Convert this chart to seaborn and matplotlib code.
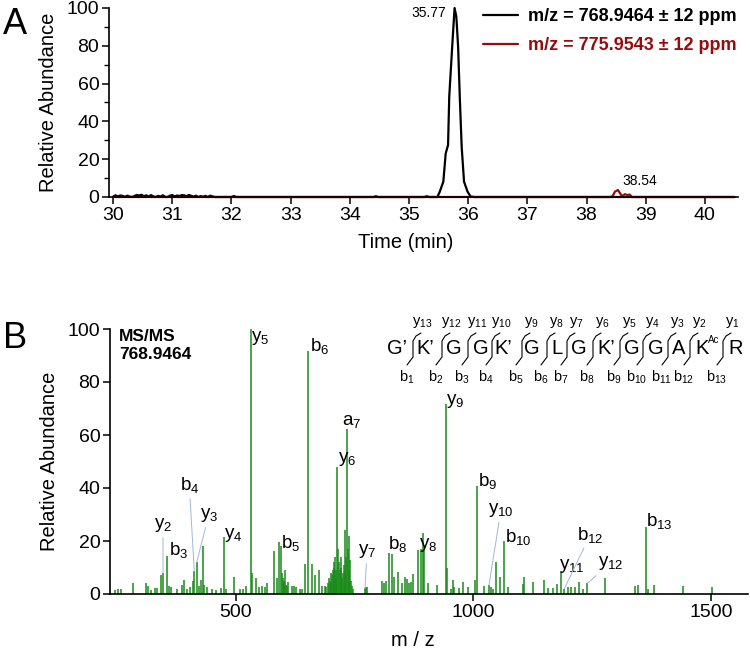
"""Extracted-ion chromatograms (A) and the annotated MS/MS spectrum (B)."""

import matplotlib

matplotlib.use("Agg")
import matplotlib.pyplot as plt
import numpy as np
import pandas as pd
import seaborn as sns
from matplotlib.lines import Line2D
from matplotlib.ticker import MultipleLocator

# --- panel A: extracted-ion chromatograms --------------------------------
XIC_768_TIME = [
    30.00, 30.04, 30.08, 30.12, 30.16, 30.20, 30.24, 30.28, 30.32, 30.36,
    30.40, 30.44, 30.48, 30.52, 30.56, 30.60, 30.64, 30.68, 30.72, 30.76,
    30.80, 30.84, 30.88, 30.92, 30.96, 31.00, 31.04, 31.08, 31.12, 31.16,
    31.20, 31.24, 31.28, 31.32, 31.36, 31.40, 31.44, 31.48, 31.52, 31.56,
    31.60, 31.64, 31.68, 31.72, 31.80, 32.00, 32.04, 32.08, 34.40, 34.44,
    34.48, 35.26, 35.30, 35.34, 35.48, 35.52, 35.58, 35.62, 35.66, 35.68,
    35.70, 35.74, 35.77, 35.80, 35.83, 35.86, 35.89, 35.93, 35.99, 36.04,
    36.10, 40.50,
]
XIC_768_INT = [
    0.2, 0.9, 0.3, 0.8, 0.6, 0.1, 0.7, 0.2, 0.0, 0.5,
    1.1, 0.8, 1.2, 0.4, 0.9, 0.2, 1.0, 0.3, 0.0, 0.6,
    0.2, 0.9, 0.1, 0.0, 0.7, 1.0, 0.3, 0.8, 0.5, 1.0,
    0.9, 0.4, 1.1, 0.6, 0.2, 0.7, 0.0, 0.5, 0.1, 0.6,
    0.0, 0.7, 0.3, 0.0, 0.0, 0.0, 0.5, 0.0, 0.0, 0.4,
    0.0, 0.0, 0.4, 0.0, 0.0, 2.8, 8.1, 23.0, 27.5, 53.0,
    63.7, 84.8, 100.0, 95.4, 79.5, 51.3, 26.6, 8.1, 2.8, 0.3,
    0.0, 0.0,
]
XIC_776_TIME = [30.00, 38.40, 38.44, 38.48, 38.53, 38.56, 38.60, 38.65,
                38.69, 38.73, 38.77, 40.50]
XIC_776_INT = [0.0, 0.0, 0.4, 2.8, 3.7, 2.3, 0.4, 1.5, 1.0, 1.3, 0.0, 0.0]
XIC_LABELS = ["m/z = 768.9464 ± 12 ppm", "m/z = 775.9543 ± 12 ppm"]
APEX_TIMES = [35.77, 38.54]
APEX_INT = [100.0, 3.7]

# --- panel B: MS/MS stick spectrum ----------------------------------------
PEAK_MZ = [
    245.3, 251.6, 257.9, 283.2, 310.5, 314.7, 321.0, 329.5, 333.7, 342.1,
    346.3, 354.7, 358.9, 363.2, 375.8, 386.3, 390.5, 396.8, 403.2, 409.5,
    412.2, 417.3, 422.1, 425.7, 429.9, 432.6, 438.3, 448.8, 457.9, 467.8,
    474.7, 478.9, 496.4, 508.4, 514.7, 521.1, 530.9, 533.0, 542.1, 548.4,
    554.7, 561.1, 565.3, 580.0, 587.0, 591.2, 594.7, 596.5, 598.9, 600.5,
    602.1, 603.6, 605.3, 607.0, 609.5, 618.0, 622.1, 626.3, 634.7, 638.9,
    645.3, 652.2, 660.0, 666.3, 674.7, 681.0, 687.4, 690.5, 693.7, 695.5,
    697.9, 699.5, 700.8, 702.1, 703.6, 705.3, 706.8, 708.4, 710.0, 711.5,
    713.3, 715.4, 716.8, 718.9, 720.4, 722.1, 723.7, 725.3, 727.0, 728.5,
    730.1, 731.8, 733.7, 735.5, 737.3, 738.8, 740.0, 742.0, 743.5, 747.0,
    771.6, 773.7, 776.4, 807.4, 811.6, 815.8, 822.7, 827.8, 832.6, 840.4,
    848.8, 855.8, 859.4, 864.8, 868.4, 873.3, 883.8, 888.8, 893.1, 895.8,
    904.8, 923.8, 942.1, 943.6, 952.6, 956.2, 958.9, 970.1, 978.5, 989.1,
    1003.2, 1008.4, 1022.7, 1032.6, 1036.8, 1041.7, 1047.4, 1055.8, 1064.8, 1073.3,
    1103.6, 1106.3, 1125.9, 1148.4, 1157.5, 1168.0, 1175.2, 1183.6, 1191.2, 1198.9,
    1205.3, 1213.7, 1222.1, 1231.2, 1239.6, 1276.8, 1340.0, 1346.9, 1362.5, 1366.7,
    1380.0, 1440.4, 1501.5,
]
PEAK_INT = [
    1.6, 2.0, 2.0, 4.0, 4.0, 3.0, 1.6, 2.3, 2.3, 7.3,
    7.8, 14.2, 3.0, 2.5, 2.0, 3.5, 5.4, 2.0, 2.8, 5.0,
    8.5, 12.0, 3.0, 5.4, 18.2, 3.5, 2.5, 2.0, 1.6, 2.2,
    21.4, 2.0, 6.4, 2.0, 2.0, 3.0, 100.0, 8.0, 6.0, 2.5,
    3.0, 2.5, 4.0, 16.4, 6.0, 19.6, 18.0, 8.0, 6.0, 5.0,
    4.0, 9.0, 3.5, 3.0, 4.5, 3.0, 3.0, 2.5, 2.0, 2.0,
    11.3, 91.6, 11.3, 7.0, 9.2, 3.0, 3.0, 2.5, 4.0, 6.0,
    5.0, 4.0, 8.0, 7.0, 9.0, 10.0, 12.0, 14.0, 6.0, 9.0,
    47.8, 17.0, 12.0, 9.0, 14.0, 10.0, 6.0, 8.0, 11.0, 9.0,
    24.3, 14.0, 62.3, 17.0, 21.8, 9.0, 13.0, 5.0, 3.0, 2.0,
    2.1, 2.8, 2.8, 5.0, 4.0, 5.0, 15.3, 15.0, 6.5, 8.4,
    4.0, 6.3, 5.5, 4.3, 4.6, 7.5, 16.6, 16.9, 22.9, 16.6,
    4.3, 3.4, 71.7, 9.7, 2.0, 5.3, 2.8, 2.1, 4.6, 2.8,
    5.3, 40.9, 3.0, 3.4, 2.5, 2.0, 12.0, 6.3, 20.1, 2.8,
    3.6, 6.3, 4.4, 5.3, 2.1, 2.1, 3.6, 8.7, 2.0, 2.5,
    2.8, 2.8, 4.7, 1.8, 4.0, 5.9, 3.0, 3.4, 25.4, 2.0,
    3.4, 3.0, 2.5,
]

# assigned fragment ions
ION_NAMES = ["y2", "b3", "b4", "y3", "y4", "y5", "b5", "b6", "y6", "a7", "y7",
             "b8", "y8", "y9", "b9", "y10", "b10", "y11", "b12", "y12", "b13"]
ION_MZ = [346.3, 354.7, 412.2, 417.3, 474.7, 530.9, 594.7, 652.2, 713.3, 733.7,
          771.6, 822.7, 893.1, 942.1, 1008.4, 1032.6, 1064.8, 1183.6, 1191.2,
          1239.6, 1362.5]
ION_INT = [7.8, 14.2, 8.5, 12.0, 21.4, 100.0, 18.0, 91.6, 47.8, 62.3, 2.1,
           15.3, 22.9, 71.7, 40.9, 3.4, 20.1, 8.7, 2.0, 4.0, 25.4]

SEQUENCE = ["G\u2019", "K\u2019", "G", "G", "K\u2019", "G", "L", "G", "K\u2019",
            "G", "G", "A", "K", "R"]

# --- styling / layout -----------------------------------------------------
BLACK = "#000000"
DARK_RED = "#9b0a0a"
GREEN = "#198a19"
LEADER = "#9fb8d6"

# label centre offsets (pixels) from the peak top; leaders drawn for some
LABEL_OFFSET_PX = {
    "y2": (0, 48), "b3": (12, 6), "b4": (-5, 86), "y3": (12, 47),
    "y4": (9, 2), "y5": (9, -9), "b5": (10, 3), "b6": (11, 5),
    "y6": (10, 8), "a7": (5, 7), "y7": (2, 37), "b8": (8, 9),
    "y8": (5, -12), "y9": (9, 3), "b9": (10, 5), "y10": (12, 75),
    "b10": (14, 4), "y11": (11, 5), "b12": (26, 54), "y12": (23, 20),
    "b13": (14, 6),
}
WITH_LEADER = {"y2", "b4", "y3", "y7", "y10", "b12", "y12"}

# fragmentation map (figure pixels)
RESIDUE_X_PX = [397, 425, 454, 481, 503, 532, 557, 579, 606, 632, 656, 679, 702, 736]
CLEAVAGE_X_PX = [413, 442, 468, 492, 522, 547, 567, 593, 620, 643, 668, 690, 723]

W, H = 750, 652
A_BOX = (109, 8, 738, 197)   # left, top, right, bottom in pixels
B_BOX = (110, 329, 748, 594)

sns.set_theme(style="ticks")
plt.rcParams["font.family"] = ["Liberation Sans", "DejaVu Sans"]
plt.rcParams["mathtext.fontset"] = "custom"
plt.rcParams["mathtext.rm"] = "Liberation Sans"
plt.rcParams["mathtext.it"] = "Liberation Sans:italic"
for key in ("text.color", "axes.labelcolor", "xtick.color", "ytick.color",
            "axes.edgecolor"):
    plt.rcParams[key] = "black"


def add_axes(fig, box):
    left, top, right, bottom = box
    return fig.add_axes([left / W, 1 - bottom / H, (right - left) / W, (bottom - top) / H])


def style_axes(ax):
    sns.despine(ax=ax)
    for side in ("left", "bottom"):
        ax.spines[side].set_linewidth(1.2)
        ax.spines[side].set_color("black")
    ax.tick_params(which="major", direction="out", length=5, width=1.1,
                   labelsize=14, pad=2, color="black", labelcolor="black")
    ax.tick_params(which="minor", direction="out", length=3.5, width=1.0, color="black")
    ax.set_facecolor("white")


def sub(label):
    return r"$\mathregular{" + label[0] + "_{" + label[1:] + "}}$"


def panel_a(fig):
    ax = add_axes(fig, A_BOX)
    style_axes(ax)
    sns.lineplot(x=XIC_768_TIME, y=XIC_768_INT, ax=ax, color=BLACK, lw=1.6,
                 estimator=None, label=XIC_LABELS[0], clip_on=False)
    sns.lineplot(x=XIC_776_TIME, y=XIC_776_INT, ax=ax, color=DARK_RED, lw=1.6,
                 estimator=None, label=XIC_LABELS[1], clip_on=False)
    ax.set_xlim(29.93, 40.56)
    ax.set_ylim(0, 100)
    ax.xaxis.set_major_locator(MultipleLocator(1))
    ax.yaxis.set_major_locator(MultipleLocator(20))
    ax.yaxis.set_minor_locator(MultipleLocator(10))
    ax.set_xlabel("Time (min)", fontsize=14.5)
    ax.set_ylabel("Relative Abundance", fontsize=14.5)
    ax.xaxis.set_label_coords(0.472, -0.19)
    ax.yaxis.set_label_coords(-0.081, 0.5)

    ax.annotate(f"{APEX_TIMES[0]:.2f}", (APEX_TIMES[0], APEX_INT[0]),
                xytext=(-8, -5), textcoords="offset pixels",
                ha="right", va="center", fontsize=10)
    ax.annotate(f"{APEX_TIMES[1]:.2f}", (APEX_TIMES[1], APEX_INT[1]),
                xytext=(4, 9), textcoords="offset pixels",
                ha="left", va="center", fontsize=10)

    leg = ax.legend(loc="upper left", bbox_to_anchor=(0.595, 0.998), frameon=False,
                    fontsize=13, handlelength=1.95, handletextpad=0.55,
                    labelspacing=0.67, borderpad=0, borderaxespad=0)
    for text, color in zip(leg.get_texts(), [BLACK, DARK_RED]):
        text.set_color(color)
        text.set_fontweight("bold")
    for line in leg.get_lines():
        line.set_linewidth(1.6)
    fig.text(3 / W, 1 - 24 / H, "A", fontsize=26, ha="left", va="center")


def panel_b(fig):
    ax = add_axes(fig, B_BOX)
    style_axes(ax)
    n = len(PEAK_MZ)
    spec = pd.DataFrame({
        "mz": np.repeat(PEAK_MZ, 2),
        "intensity": np.column_stack([np.zeros(n), PEAK_INT]).ravel(),
        "peak": np.repeat(np.arange(n), 2),
    })
    sns.lineplot(data=spec, x="mz", y="intensity", units="peak", estimator=None,
                 color=GREEN, lw=1.1, ax=ax, solid_capstyle="butt")
    ax.set_xlim(234.7, 1578)
    ax.set_ylim(0, 100)
    ax.set_xticks([500, 1000, 1500])
    ax.yaxis.set_major_locator(MultipleLocator(20))
    ax.set_xlabel("m / z", fontsize=14.5)
    ax.set_ylabel("Relative Abundance", fontsize=14.5)
    ax.xaxis.set_label_coords(0.475, -0.14)
    ax.yaxis.set_label_coords(-0.080, 0.5)

    for name, mz, inten in zip(ION_NAMES, ION_MZ, ION_INT):
        dx, dy = LABEL_OFFSET_PX[name]
        arrow = None
        if name in WITH_LEADER:
            arrow = dict(arrowstyle="-", color=LEADER, lw=0.7, shrinkA=0, shrinkB=0)
        ax.annotate(sub(name), (mz, inten), xytext=(dx, dy), textcoords="offset pixels",
                    ha="center", va="center", fontsize=13.5, arrowprops=arrow,
                    annotation_clip=False)

    ax.text(9 / 638, 1.0, "MS/MS\n768.9464", transform=ax.transAxes, ha="left",
            va="top", fontsize=12.5, fontweight="bold", linespacing=1.25)

    # fragmentation map above the spectrum
    def fx(px):
        return (px - B_BOX[0]) / (B_BOX[2] - B_BOX[0])

    def fy(py):
        return (B_BOX[3] - py) / (B_BOX[3] - B_BOX[1])

    for res, x in zip(SEQUENCE, RESIDUE_X_PX):
        ax.text(fx(x), fy(349), res, transform=ax.transAxes, ha="center",
                va="center", fontsize=14.5, clip_on=False)
    ax.text(fx(RESIDUE_X_PX[12] + 12), fy(340), "Ac", transform=ax.transAxes,
            ha="center", va="center", fontsize=7, clip_on=False)
    n_res = len(SEQUENCE)
    for i, bx in enumerate(CLEAVAGE_X_PX, start=1):
        xs = [bx + 8, bx + 3, bx, bx, bx - 6]
        ys = [333, 336, 341, 357, 365]
        ax.add_line(Line2D([fx(v) for v in xs], [fy(v) for v in ys],
                           transform=ax.transAxes, color="black", lw=0.8,
                           clip_on=False))
        ax.text(fx(bx - 6), fy(377), sub(f"b{i}"), transform=ax.transAxes,
                ha="center", va="center", fontsize=10.5, clip_on=False)
        ax.text(fx(bx + 9), fy(323), sub(f"y{n_res - i}"), transform=ax.transAxes,
                ha="center", va="center", fontsize=10.5, clip_on=False)
    fig.text(3 / W, 1 - 338 / H, "B", fontsize=26, ha="left", va="center")


def main():
    fig = plt.figure(figsize=(W / 100, H / 100), dpi=100)
    fig.patch.set_facecolor("white")
    panel_a(fig)
    panel_b(fig)
    fig.savefig("out.png", dpi=100, facecolor="white")
    plt.close(fig)


if __name__ == "__main__":
    main()
